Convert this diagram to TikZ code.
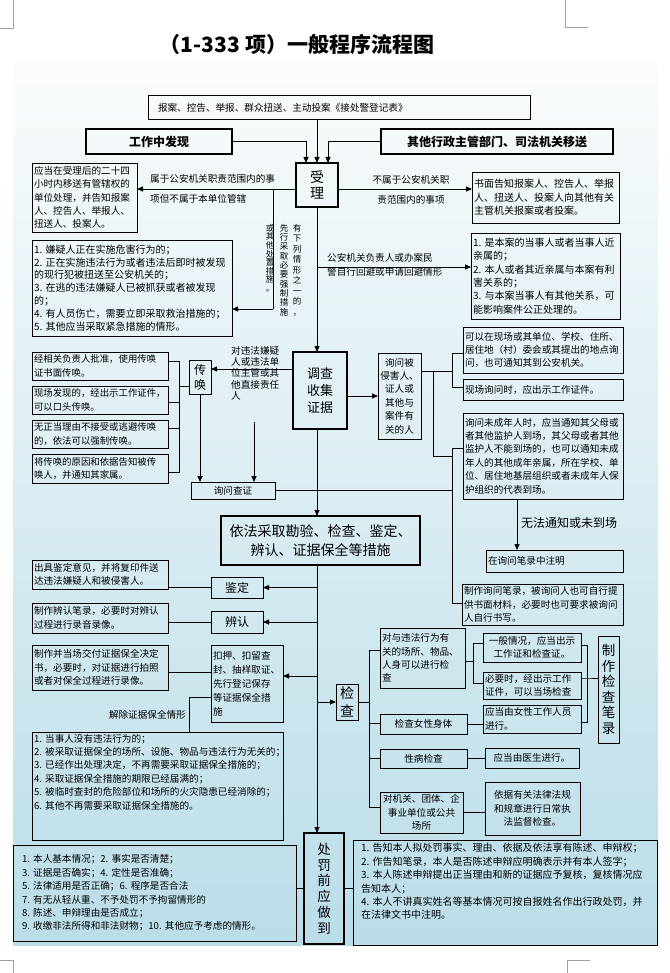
\documentclass[tikz,border=0pt]{standalone}
\usepackage{fontspec}
\setmainfont{Noto Sans CJK SC}
\usetikzlibrary{arrows.meta}
\definecolor{bgtop}{RGB}{250,252,253}
\definecolor{bgbot}{RGB}{186,221,232}
\definecolor{cropgray}{RGB}{160,160,160}
\newcommand\fzA{\fontsize{9.6pt}{13.4pt}\selectfont}
\newcommand\fzB{\fontsize{10pt}{13.4pt}\selectfont}
\newcommand\fzL{\fontsize{10pt}{12.8pt}\selectfont}
\newcommand\fzC{\fontsize{9.4pt}{13.4pt}\selectfont}
\newcommand\fzT{\fontsize{21pt}{24pt}\selectfont\bfseries}
\newcommand\fzH{\fontsize{12pt}{14pt}\selectfont\bfseries}
\newcommand\fzK{\fontsize{14pt}{16pt}\selectfont}
\newcommand\fzQ{\fontsize{14pt}{18pt}\selectfont}
\newcommand\fzD{\fontsize{13pt}{17pt}\selectfont}
\newcommand\fzE{\fontsize{12pt}{15pt}\selectfont}
\newcommand\fzG{\fontsize{14pt}{19pt}\selectfont}
\newcommand\fzJ{\fontsize{13.5pt}{15.6pt}\selectfont}
\newcommand\fzP{\fontsize{13.5pt}{15.8pt}\selectfont}
\newcommand\fzKy{\fontsize{9.6pt}{14pt}\selectfont}
\newcommand\fzVa{\fontsize{8.5pt}{10.5pt}\selectfont}
\newcommand\fzVb{\fontsize{8.5pt}{9.3pt}\selectfont}
\newcommand\fzVc{\fontsize{8.5pt}{8.6pt}\selectfont}
\newcommand\fzN{\fontsize{12pt}{14pt}\selectfont}
\newcommand\fzS{\fontsize{9.6pt}{11.3pt}\selectfont}
% \bx[options]{name}{x1}{y1}{x2}{y2}{text}
\newcommand\bx[7][]{\node[box,anchor=north west,minimum width={(#5-#3)*1pt},minimum height={(#6-#4)*1pt},text width={(#5-#3-4)*1pt},#1] (#2) at (#3,#4) {#7};}
\begin{document}
\begin{tikzpicture}[x=1pt,y=-1pt,
  box/.style={draw,line width=0.8pt,inner xsep=2pt,inner ysep=1pt,outer sep=0pt,align=left,font=\fzA},
  thk/.style={line width=2.2pt},
  midbox/.style={line width=1.2pt},
  ln/.style={line width=0.8pt},
  arr/.style={line width=0.8pt,-{Triangle[length=6pt,width=5pt]}},
  lab/.style={inner sep=0pt,font=\fzA},
  vt/.style={inner sep=0pt,align=center},
  crop/.style={draw=cropgray,line width=0.6pt}]
\useasboundingbox (0,0) rectangle (669,973);
\shade[top color=bgtop,bottom color=bgbot] (13,63) rectangle (658,945);
% crop marks
\draw[crop] (13,0) -- (13,28) -- (0,28);
\draw[crop] (565,0) -- (565,27) -- (588,27);
\draw[crop] (0,960) -- (13,960) -- (13,973);
\draw[crop] (567,973) -- (567,960) -- (590,960);
% title
\node[font=\fzT] (title) at (297,45) {（1-333 项）一般程序流程图};
% top
\bx[line width=1pt]{src}{148}{96}{530}{120}{\hspace*{8pt}报案、控告、举报、群众扭送、主动投案《接处警登记表》}
\bx[midbox,font=\fzH,align=center]{gz}{86}{129}{232}{154}{工作中发现}
\bx[midbox,font=\fzH,align=center]{qt}{381}{129}{613}{154}{其他行政主管部门、司法机关移送}
\bx[thk,font=\fzK,align=center]{sl}{296}{163}{338}{207}{受\\理}
\bx{L1}{32}{163}{137}{232}{应当在受理后的二十四\\小时内移送有管辖权的\\单位处理，并告知报案\\人、控告人、举报人、\\扭送人、投案人。}
\bx[font=\fzB]{R1}{472}{172}{619}{223}{书面告知报案人、控告人、举报\\人、扭送人、投案人向其他有关\\主管机关报案或者投案。}
\bx[font=\fzL]{L2}{32}{240}{232}{336}{1.~嫌疑人正在实施危害行为的；\\2.~正在实施违法行为或者违法后即时被发现\\的现行犯被扭送至公安机关的；\\3.~在逃的违法嫌疑人已被抓获或者被发现\\的；\\4.~有人员伤亡，需要立即采取救治措施的；\\5.~其他应当采取紧急措施的情形。}
\bx[font=\fzB]{R2}{471}{233}{620}{319}{1.~是本案的当事人或者当事人近\\亲属的；\\2.~本人或者其近亲属与本案有利\\害关系的；\\3.~与本案当事人有其他关系，可\\能影响案件公正处理的。}
% investigation
\bx[thk,font=\fzD,align=center]{dc}{293}{352}{347}{429}{调查\\收集\\证据}
\bx[font=\fzE,align=center]{ch}{189}{360}{211}{394}{传\\唤}
\bx[font=\fzC]{Ca}{32}{352}{168}{380}{经相关负责人批准，使用传唤\\证书面传唤。}
\bx[font=\fzC]{Cb}{32}{386}{168}{414}{现场发现的，经出示工作证件，\\可以口头传唤。}
\bx[font=\fzC]{Cc}{32}{420}{168}{448}{无正当理由不接受或逃避传唤\\的，依法可以强制传唤。}
\bx[font=\fzC]{Cd}{32}{454}{168}{483}{将传唤的原因和依据告知被传\\唤人，并通知其家属。}
\bx[align=center]{xw}{191}{482}{275}{499}{询问查证}
\bx[align=center]{xb}{378}{353}{421}{439}{询问被\\侵害人、\\证人或\\其他与\\案件有\\关的人}
\bx{Ra}{463}{327}{623}{373}{可以在现场或其单位、学校、住所、\\居住地（村）委会或其提出的地点询\\问，也可通知其到公安机关。}
\bx{Rb}{463}{379}{623}{400}{现场询问时，应出示工作证件。}
\bx{Rc}{463}{413}{623}{499}{询问未成年人时，应当通知其父母或\\者其他监护人到场，其父母或者其他\\监护人不能到场的，也可以通知未成\\年人的其他成年亲属，所在学校、单\\位、居住地基层组织或者未成年人保\\护组织的代表到场。}
\bx{zm}{486}{550}{623}{572}{在询问笔录中注明}
\bx{zw}{462}{584}{623}{625}{制作询问笔录，被询问人也可自行提\\供书面材料，必要时也可要求被询问\\人自行书写。}
% measures
\bx[thk,font=\fzG,align=center]{big}{221}{516}{420}{565}{依法采取勘验、检查、鉴定、\\辨认、证据保全等措施}
\bx[line width=1pt,font=\fzE,align=center]{jd}{211}{577}{263}{598}{鉴定}
\bx[line width=1pt,font=\fzE,align=center]{br}{211}{611}{263}{633}{辨认}
\bx[font=\fzKy]{ky}{211}{645}{283}{722}{扣押、扣留查\\封、抽样取证、\\先行登记保存\\等证据保全措\\施}
\bx{Ja}{32}{560}{168}{589}{出具鉴定意见，并将复印件送\\达违法嫌疑人和被侵害人。}
\bx{Jb}{32}{603}{168}{633}{制作辨认笔录，必要时对辨认\\过程进行录音录像。}
\bx{Jc}{32}{645}{168}{690}{制作并当场交付证据保全决定\\书，必要时，对证据进行拍照\\或者对保全过程进行录像。}
\bx{jc}{32}{732}{283}{840}{\parbox[t][104pt][t]{247pt}{\raggedright 1.~当事人没有违法行为的；\\2.~被采取证据保全的场所、设施、物品与违法行为无关的；\\3.~已经作出处理决定，不再需要采取证据保全措施的；\\4.~采取证据保全措施的期限已经届满的；\\5.~被临时查封的危险部位和场所的火灾隐患已经消除的；\\6.~其他不再需要采取证据保全措施的。}}
% inspection
\bx[font=\fzQ,align=center]{jcha}{336}{684}{358}{720}{检\\查}
\bx{K1}{380}{628}{465}{688}{对与违法行为有\\关的场所、物品、\\人身可以进行检\\查}
\bx[align=center]{K2}{380}{714}{467}{734}{检查女性身体}
\bx[align=center]{K3}{380}{749}{467}{768}{性病检查}
\bx[align=center]{K4}{380}{792}{463}{833}{对机关、团体、企\\事业单位或公共\\场所}
\bx[align=center]{M1}{483}{633}{581}{662}{一般情况，应当出示\\工作证和检查证。}
\bx{M2}{483}{672}{581}{699}{必要时，经出示工作\\证件，可以当场检查}
\bx{M3}{483}{705}{581}{733}{应当由女性工作人员\\进行。}
\bx[align=center]{M4}{485}{748}{579}{768}{应当由医生进行。}
\bx[align=center]{M5}{485}{782}{580}{835}{依据有关法律法规\\和规章进行日常执\\法监督检查。}
\bx[font=\fzJ,align=center]{zjb}{598}{636}{619}{743}{制\\作\\检\\查\\笔\\录}
% bottom
\bx[thk,font=\fzP,align=center]{cf}{304}{833}{344}{944}{处\\罚\\前\\应\\做\\到}
\bx[inner xsep=9pt,text width=265pt]{BL}{13}{845}{296}{941}{1.~本人基本情况；2.~事实是否清楚；\\3.~证据是否确实；4.~定性是否准确；\\5.~法律适用是否正确；6.~程序是否合法\\7.~有无从轻从重、不予处罚不予拘留情形的\\8.~陈述、申辩理由是否成立；\\9.~收缴非法所得和非法财物；10.~其他应予考虑的情形。}
\bx[font=\fzB]{BR}{353}{840}{657}{945}{\hspace*{6pt}\parbox[t][98pt][t]{290pt}{\raggedright 1.~告知本人拟处罚事实、理由、依据及依法享有陈述、申辩权；\\2.~作告知笔录，本人是否陈述申辩应明确表示并有本人签字；\\3.~本人陈述申辩提出正当理由和新的证据应予复核，复核情况应\\告知本人；\\4.~本人不讲真实姓名等基本情况可按自报姓名作出行政处罚，并\\在法律文书中注明。}}
% labels
\node[lab,anchor=west] (la1) at (150,179) {属于公安机关职责范围内的事};
\node[lab,anchor=west] (la2) at (150,199) {项但不属于本单位管辖};
\node[lab] (la3) at (411,180) {不属于公安机关职};
\node[lab] (la4) at (411,200) {责范围内的事项};
\node[lab,anchor=west] (la5) at (327,258) {公安机关负责人或办案民};
\node[lab,anchor=west] (la6) at (327,272) {警自行回避或申请回避情形};
\node[lab,font=\fzS,align=left,anchor=north west] (la7) at (231,346) {对违法嫌疑\\人或违法单\\位主管或其\\他直接责任\\人};
\node[lab,font=\fzN,anchor=west] (la8) at (521,523) {无法通知或未到场};
\node[lab,anchor=east] (la9) at (186,715) {解除证据保全情形};
\node[vt,font=\fzVa,anchor=north] (v1) at (297,224) {有\\下\\列\\情\\形\\之\\一\\的\\，};
\node[vt,font=\fzVb,anchor=north] (v2) at (284,224) {先\\行\\采\\取\\必\\要\\强\\制\\措\\施};
\node[vt,font=\fzVc,anchor=north] (v3) at (270,224) {或\\其\\他\\处\\置\\措\\施\\。};
% connectors: top
\draw[arr] (gz.east) -| ([xshift=-11pt]sl.north);
\draw[arr] (src.south -| sl.north) -- (sl.north);
\draw[arr] (qt.west) -| ([xshift=11pt]sl.north);
\draw[arr] ([yshift=-4pt]sl.west) -- ([yshift=-4pt]sl.west -| L1.east);
\draw[arr] ([yshift=-4pt]sl.east) -- ([yshift=-4pt]sl.east -| R1.west);
\coordinate (b1) at (273,189);
\coordinate (b1e) at (273,309);
\draw[ln] (b1) -- (b1e);
\draw[arr] (b1e) -- (b1e -| L2.east);
\coordinate (b2) at (317,267);
\draw[arr] (b2) -- (b2 -| R2.west);
\draw[arr] (sl.south) -- (sl.south |- dc.north);
% investigation connectors
\draw[arr] ([yshift=21.5pt]dc.west) -- ([yshift=21.5pt]dc.west -| ch.east);
\coordinate (k1) at (179,361);
\coordinate (k2) at (179,472);
\coordinate (k3) at (179,386);
\coordinate (k4) at (179,402);
\coordinate (k5) at (179,428);
\draw[ln] (k1 -| Ca.east) -- (k1) -- (k2) -- (k2 -| Cd.east);
\draw[ln] (k4 -| Cb.east) -- (k4);
\draw[ln] (k5 -| Cc.east) -- (k5);
\draw[ln] (k3) -- (k3 -| ch.west);
\draw[arr] (ch.south) -- (ch.south |- xw.north);
\coordinate (d1) at (254,422);
\draw[arr] (d1) -- (d1 |- xw.north);
\draw[arr] (dc.east |- xb.west) -- (xb.west);
\coordinate (q1) at (452,448);
\coordinate (q2) at (452,603);
\coordinate (q3) at (433,371);
\coordinate (q4) at (433,456);
\coordinate (q5) at (452,353);
\coordinate (q6) at (452,387);
\coordinate (q7) at (452,371);
\draw[ln] (q1 -| Rc.west) -- (q1) -- (q2) -- (q2 -| zw.west);
\draw[ln] (xw.east) -- (xw.east -| q1);
\draw[ln] (q3 -| xb.east) -- (q7);
\draw[ln] (q5 -| Ra.west) -- (q5) -- (q6) -- (q6 -| Rb.west);
\draw[ln] (q3) -- (q4) -- (q4 -| q1);
\coordinate (u1) at (517,499);
\draw[arr] (u1) -- (u1 |- zm.north);
% main line
\draw[arr] (sl.south |- dc.south) -- (sl.south |- big.north);
\draw[arr] (sl.south |- big.south) -- (sl.south |- cf.north);
\draw[arr] (jd.east -| sl.south) -- (jd.east);
\draw[arr] (br.east -| sl.south) -- (br.east);
\draw[arr] ([yshift=7.5pt]ky.east -| sl.south) -- ([yshift=7.5pt]ky.east);
\draw[arr] (jcha.west -| sl.south) -- (jcha.west);
\draw[ln] (jd.west) -- (jd.west -| Ja.east);
\draw[ln] (br.west) -- (br.west -| Jb.east);
\draw[ln] ([yshift=11.5pt]ky.west) -- ([yshift=11.5pt]ky.west -| Jc.east);
\coordinate (e1) at (189,697);
\draw[ln] (e1 -| ky.west) -- (e1) -- (e1 |- jc.north);
% inspection connectors
\coordinate (g1) at (369,650);
\coordinate (g2) at (369,807);
\coordinate (g3) at (369,723);
\coordinate (g4) at (369,758);
\draw[ln] (jcha.east) -- (jcha.east -| g1);
\draw[ln] (g1 -| K1.west) -- (g1) -- (g2) -- (g2 -| K4.west);
\draw[ln] (g3) -- (g3 -| K2.west);
\draw[ln] (g4) -- (g4 -| K3.west);
\coordinate (h1) at (473,643);
\coordinate (h2) at (473,683);
\coordinate (h3) at (473,661);
\draw[ln] (h3 -| K1.east) -- (h3);
\draw[ln] (h1 -| M1.west) -- (h1) -- (h2) -- (h2 -| M2.west);
\draw[ln] (K2.east) -- (K2.east -| M3.west);
\draw[ln] (K3.east) -- (K3.east -| M4.west);
\draw[ln] (K4.east) -- (K4.east -| M5.west);
\coordinate (r1) at (587,645);
\coordinate (r2) at (587,722);
\coordinate (r3) at (587,678);
\draw[ln] (r1 -| M1.east) -- (r1) -- (r2) -- (r2 -| M3.east);
\draw[ln] (r3 -| M2.east) -- (r3) -- (r3 -| zjb.west);
% bottom
\draw[ln] (cf.west) -- (cf.west -| BL.east);
\draw[ln] (cf.east) -- (cf.east -| BR.west);
\end{tikzpicture}
\end{document}
